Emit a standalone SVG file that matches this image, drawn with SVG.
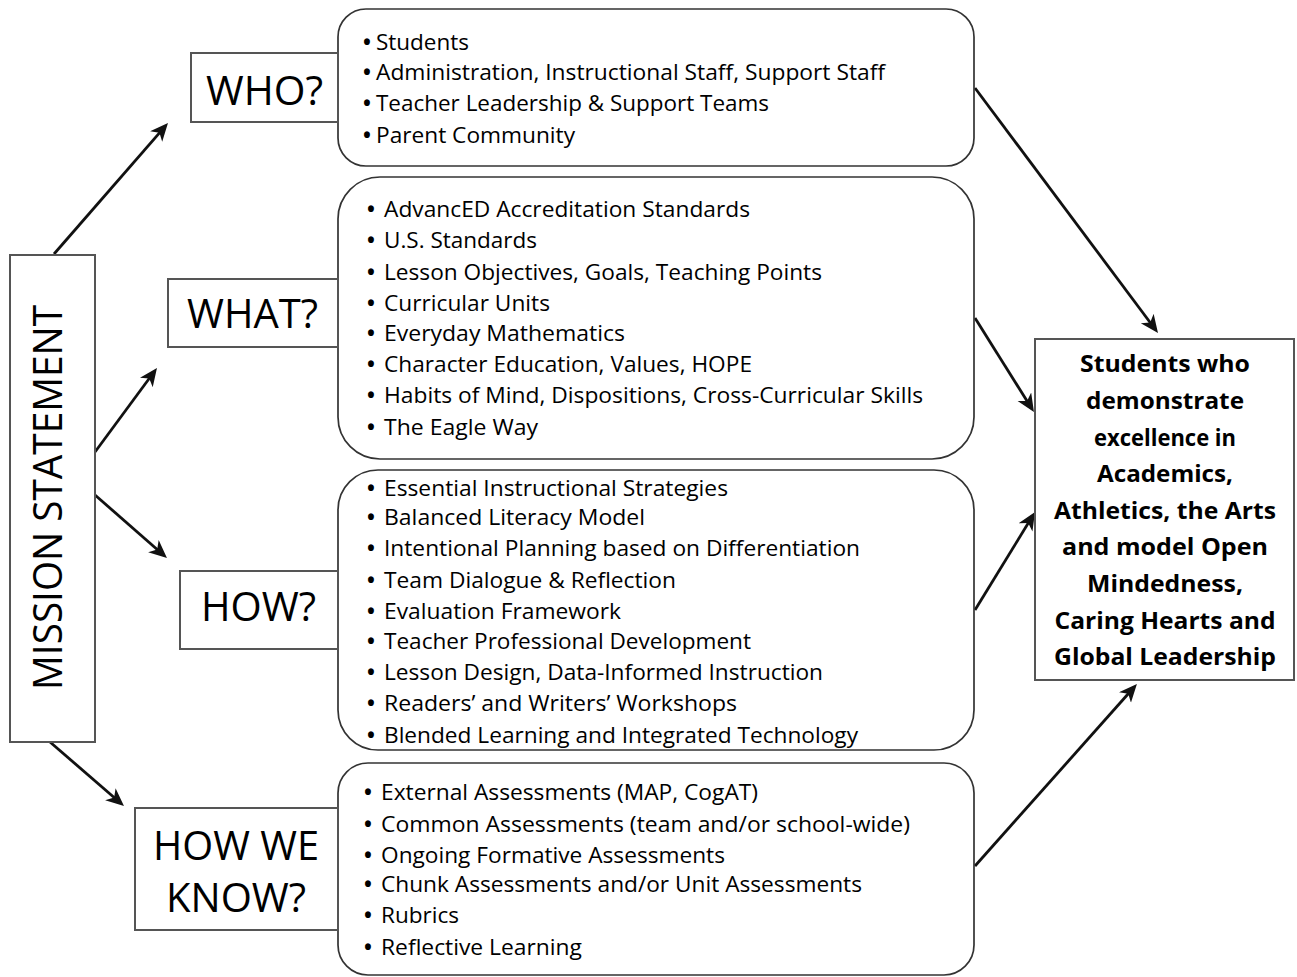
<svg xmlns="http://www.w3.org/2000/svg" width="1297" height="977" viewBox="0 0 1297 977">
<defs>
<style>
.rb{fill:#fff;stroke:#333;stroke-width:1.7}
.lb{fill:#fff;stroke:#555;stroke-width:2}
.lbl{font-family:"Open Sans","Noto Sans",sans-serif;font-size:40px;fill:#000}
.it{font-family:"Open Sans","Noto Sans",sans-serif;font-size:21px;fill:#000}
.bu{font-family:"Open Sans","Noto Sans",sans-serif;font-size:21px;font-weight:bold;fill:#000}
.out{font-family:"Open Sans","Noto Sans",sans-serif;font-size:24px;font-weight:bold;fill:#000;text-anchor:middle}
.cn{stroke:#111;stroke-width:2.8;fill:none;marker-end:url(#ah)}
</style>
<marker id="ah" markerUnits="userSpaceOnUse" markerWidth="20" markerHeight="18" refX="13" refY="8" orient="auto">
<path d="M0,0 L18,8 L0,16 L5,8 Z" fill="#111"/>
</marker>
</defs>

<g id="connectors">
<line class="cn" x1="54" y1="254" x2="164.7" y2="126.8"/>
<line class="cn" x1="95" y1="452" x2="154" y2="372"/>
<line class="cn" x1="95" y1="495" x2="163.2" y2="554.7"/>
<line class="cn" x1="50" y1="742" x2="120.2" y2="802.7"/>
<line class="cn" x1="975" y1="88" x2="1155" y2="329"/>
<line class="cn" x1="975" y1="318" x2="1031.3" y2="407.8"/>
<line class="cn" x1="975" y1="610" x2="1032.4" y2="516.3"/>
<line class="cn" x1="975" y1="866" x2="1133.6" y2="687.8"/>
</g>

<g id="mission">
<rect class="lb" x="10" y="255" width="85" height="487"/>
<text class="lbl" transform="translate(62,497.5) rotate(-90)" text-anchor="middle" textLength="385" lengthAdjust="spacingAndGlyphs">MISSION STATEMENT</text>
</g>

<g id="who-list">
<rect class="rb" x="338" y="9" width="636" height="157" rx="28" ry="28"/>
<text class="bu" x="363" y="50">•</text><text class="it" x="376" y="50" textLength="93" lengthAdjust="spacingAndGlyphs">Students</text>
<text class="bu" x="363" y="80">•</text><text class="it" x="376" y="80" textLength="509" lengthAdjust="spacingAndGlyphs">Administration, Instructional Staff, Support Staff</text>
<text class="bu" x="363" y="111">•</text><text class="it" x="376" y="111" textLength="393" lengthAdjust="spacingAndGlyphs">Teacher Leadership &amp; Support Teams</text>
<text class="bu" x="363" y="143">•</text><text class="it" x="376" y="143" textLength="199" lengthAdjust="spacingAndGlyphs">Parent Community</text>
</g>
<g id="who">
<rect class="lb" x="191" y="53" width="147" height="69"/>
<text class="lbl" x="206" y="105" textLength="117" lengthAdjust="spacingAndGlyphs">WHO?</text>
</g>

<g id="what-list">
<rect class="rb" x="338" y="177" width="636" height="282" rx="42" ry="42"/>
<text class="bu" x="367" y="217">•</text><text class="it" x="384" y="217" textLength="366" lengthAdjust="spacingAndGlyphs">AdvancED Accreditation Standards</text>
<text class="bu" x="367" y="248">•</text><text class="it" x="384" y="248" textLength="153" lengthAdjust="spacingAndGlyphs">U.S. Standards</text>
<text class="bu" x="367" y="280">•</text><text class="it" x="384" y="280" textLength="438" lengthAdjust="spacingAndGlyphs">Lesson Objectives, Goals, Teaching Points</text>
<text class="bu" x="367" y="311">•</text><text class="it" x="384" y="311" textLength="166" lengthAdjust="spacingAndGlyphs">Curricular Units</text>
<text class="bu" x="367" y="341">•</text><text class="it" x="384" y="341" textLength="241" lengthAdjust="spacingAndGlyphs">Everyday Mathematics</text>
<text class="bu" x="367" y="372">•</text><text class="it" x="384" y="372" textLength="368" lengthAdjust="spacingAndGlyphs">Character Education, Values, HOPE</text>
<text class="bu" x="367" y="403">•</text><text class="it" x="384" y="403" textLength="539" lengthAdjust="spacingAndGlyphs">Habits of Mind, Dispositions, Cross-Curricular Skills</text>
<text class="bu" x="367" y="435">•</text><text class="it" x="384" y="435" textLength="154" lengthAdjust="spacingAndGlyphs">The Eagle Way</text>
</g>
<g id="what">
<rect class="lb" x="168" y="279" width="170" height="68"/>
<text class="lbl" x="187" y="328" textLength="131" lengthAdjust="spacingAndGlyphs">WHAT?</text>
</g>

<g id="how-list">
<rect class="rb" x="338" y="470" width="636" height="280" rx="40" ry="40"/>
<text class="bu" x="367" y="496">•</text><text class="it" x="384" y="496" textLength="344" lengthAdjust="spacingAndGlyphs">Essential Instructional Strategies</text>
<text class="bu" x="367" y="525">•</text><text class="it" x="384" y="525" textLength="261" lengthAdjust="spacingAndGlyphs">Balanced Literacy Model</text>
<text class="bu" x="367" y="556">•</text><text class="it" x="384" y="556" textLength="476" lengthAdjust="spacingAndGlyphs">Intentional Planning based on Differentiation</text>
<text class="bu" x="367" y="588">•</text><text class="it" x="384" y="588" textLength="292" lengthAdjust="spacingAndGlyphs">Team Dialogue &amp; Reflection</text>
<text class="bu" x="367" y="619">•</text><text class="it" x="384" y="619" textLength="237" lengthAdjust="spacingAndGlyphs">Evaluation Framework</text>
<text class="bu" x="367" y="649">•</text><text class="it" x="384" y="649" textLength="367" lengthAdjust="spacingAndGlyphs">Teacher Professional Development</text>
<text class="bu" x="367" y="680">•</text><text class="it" x="384" y="680" textLength="439" lengthAdjust="spacingAndGlyphs">Lesson Design, Data-Informed Instruction</text>
<text class="bu" x="367" y="711">•</text><text class="it" x="384" y="711" textLength="353" lengthAdjust="spacingAndGlyphs">Readers’ and Writers’ Workshops</text>
<text class="bu" x="367" y="743">•</text><text class="it" x="384" y="743" textLength="474" lengthAdjust="spacingAndGlyphs">Blended Learning and Integrated Technology</text>
</g>
<g id="how">
<rect class="lb" x="180" y="571" width="158" height="78"/>
<text class="lbl" x="201" y="621" textLength="115" lengthAdjust="spacingAndGlyphs">HOW?</text>
</g>

<g id="howweknow-list">
<rect class="rb" x="338" y="763" width="636" height="212" rx="30" ry="30"/>
<text class="bu" x="364" y="800">•</text><text class="it" x="381" y="800" textLength="377" lengthAdjust="spacingAndGlyphs">External Assessments (MAP, CogAT)</text>
<text class="bu" x="364" y="832">•</text><text class="it" x="381" y="832" textLength="529" lengthAdjust="spacingAndGlyphs">Common Assessments (team and/or school-wide)</text>
<text class="bu" x="364" y="863">•</text><text class="it" x="381" y="863" textLength="344" lengthAdjust="spacingAndGlyphs">Ongoing Formative Assessments</text>
<text class="bu" x="364" y="892">•</text><text class="it" x="381" y="892" textLength="481" lengthAdjust="spacingAndGlyphs">Chunk Assessments and/or Unit Assessments</text>
<text class="bu" x="364" y="923">•</text><text class="it" x="381" y="923" textLength="78" lengthAdjust="spacingAndGlyphs">Rubrics</text>
<text class="bu" x="364" y="955">•</text><text class="it" x="381" y="955" textLength="201" lengthAdjust="spacingAndGlyphs">Reflective Learning</text>
</g>
<g id="howweknow">
<rect class="lb" x="135" y="808" width="203" height="122"/>
<text class="lbl" x="153" y="860" textLength="166" lengthAdjust="spacingAndGlyphs">HOW WE</text>
<text class="lbl" x="166" y="912" textLength="140" lengthAdjust="spacingAndGlyphs">KNOW?</text>
</g>

<g id="outcome">
<rect class="lb" x="1035" y="339" width="259" height="341"/>
<text class="out" x="1165" y="372" textLength="170" lengthAdjust="spacingAndGlyphs">Students who</text>
<text class="out" x="1165" y="409" textLength="158" lengthAdjust="spacingAndGlyphs">demonstrate</text>
<text class="out" x="1165" y="446" textLength="142" lengthAdjust="spacingAndGlyphs">excellence in</text>
<text class="out" x="1165" y="482" textLength="136" lengthAdjust="spacingAndGlyphs">Academics,</text>
<text class="out" x="1165" y="519" textLength="222" lengthAdjust="spacingAndGlyphs">Athletics, the Arts</text>
<text class="out" x="1165" y="555" textLength="206" lengthAdjust="spacingAndGlyphs">and model Open</text>
<text class="out" x="1165" y="592" textLength="156" lengthAdjust="spacingAndGlyphs">Mindedness,</text>
<text class="out" x="1165" y="629" textLength="221" lengthAdjust="spacingAndGlyphs">Caring Hearts and</text>
<text class="out" x="1165" y="665" textLength="222" lengthAdjust="spacingAndGlyphs">Global Leadership</text>
</g>
</svg>
